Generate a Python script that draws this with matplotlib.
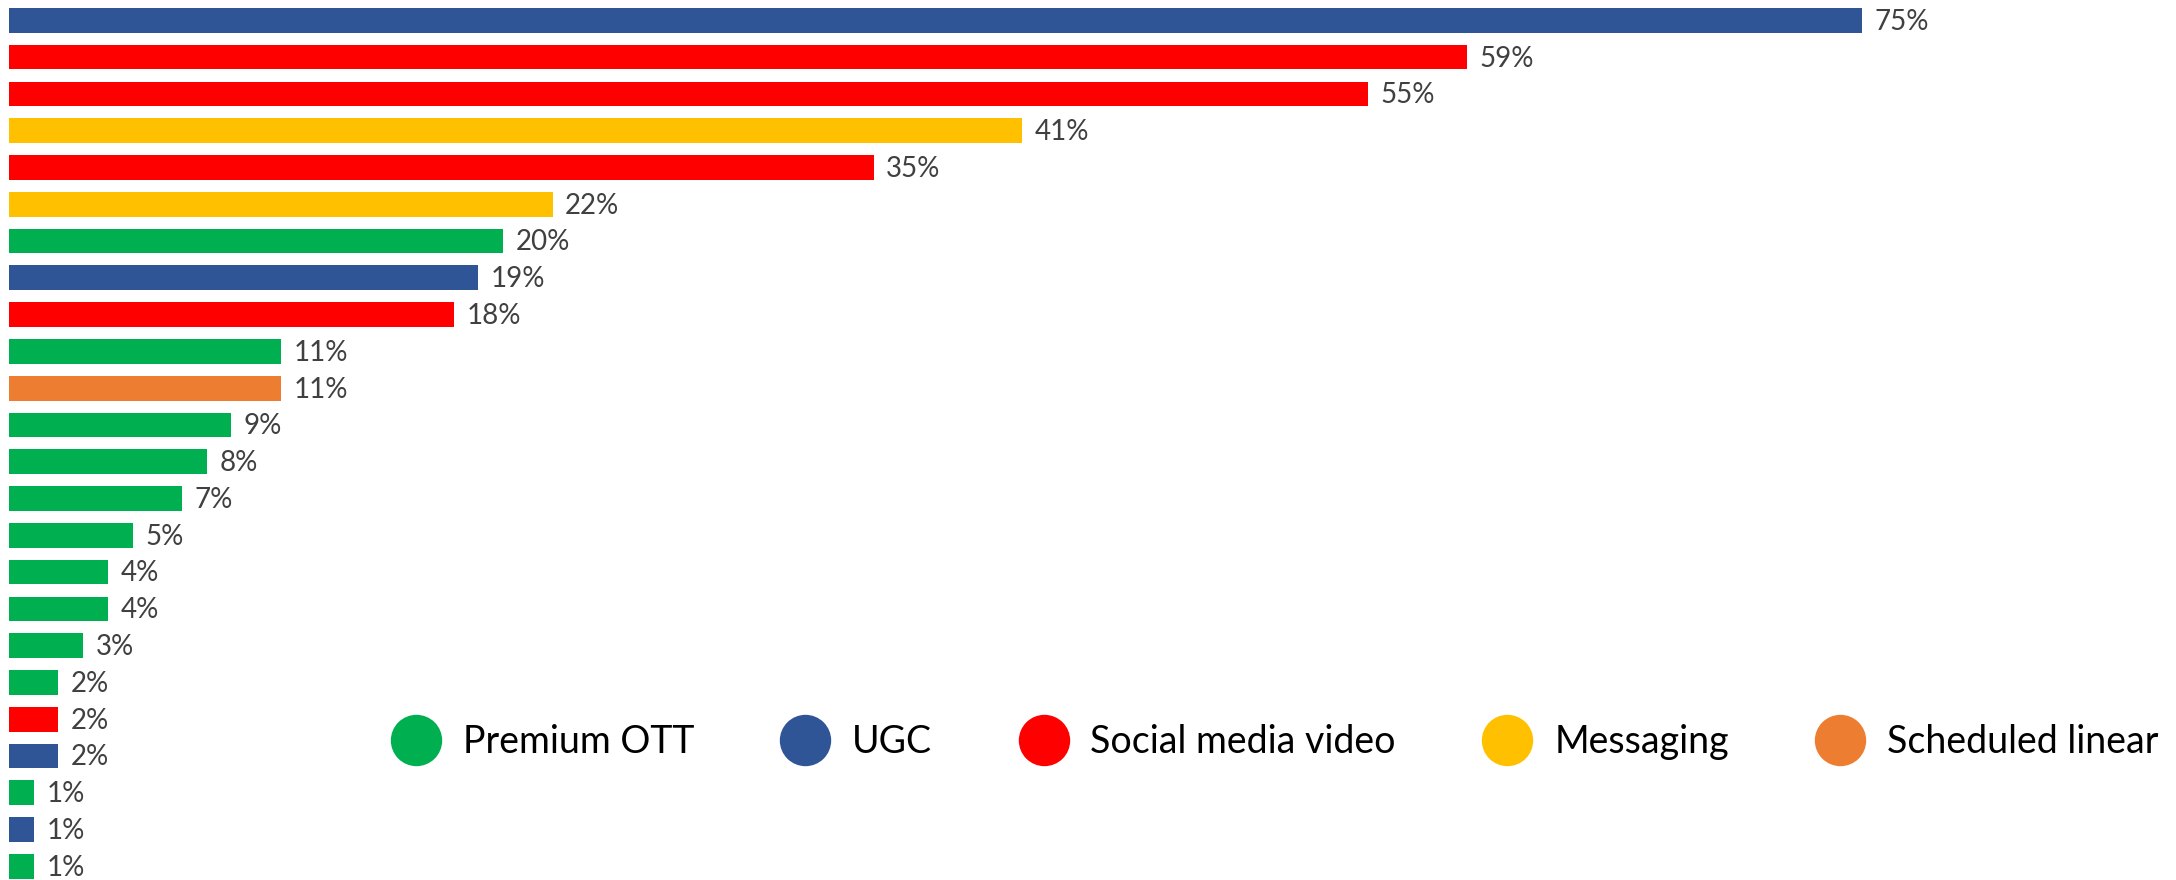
import matplotlib.pyplot as plt
from matplotlib.lines import Line2D

plt.rcParams['font.family'] = ['Lato', 'DejaVu Sans']

values = [75, 59, 55, 41, 35, 22, 20, 19, 18, 11, 11, 9, 8, 7, 5, 4, 4, 3, 2, 2, 2, 1, 1, 1]
groups = ['UGC', 'Social media video', 'Social media video', 'Messaging',
          'Social media video', 'Messaging', 'Premium OTT', 'UGC',
          'Social media video', 'Premium OTT', 'Scheduled linear',
          'Premium OTT', 'Premium OTT', 'Premium OTT', 'Premium OTT',
          'Premium OTT', 'Premium OTT', 'Premium OTT', 'Premium OTT',
          'Social media video', 'UGC', 'Premium OTT', 'UGC', 'Premium OTT']

legend_order = ['Premium OTT', 'UGC', 'Social media video', 'Messaging', 'Scheduled linear']
colors = {
    'Premium OTT': '#00B050',
    'UGC': '#2F5597',
    'Social media video': '#FF0000',
    'Messaging': '#FFC000',
    'Scheduled linear': '#ED7D31',
}

W, H = 2176, 880
fig = plt.figure(figsize=(W / 100, H / 100), dpi=100)
ax = fig.add_axes([9 / W, 0, 1 - 9 / W, 1])

ypos = list(range(len(values)))
ax.barh(ypos, values, height=0.671, color=[colors[g] for g in groups])

for y, v in zip(ypos, values):
    ax.annotate(f'{v}%', (v, y), xytext=(9, -1), textcoords='offset points',
                va='center', ha='left', fontsize=20, color='#404040')

ax.set_xlim(0, 87.7)
ax.set_ylim(23.371, -0.553)
ax.axis('off')

handles = [Line2D([], [], marker='o', linestyle='none', markersize=37,
                  markerfacecolor=colors[g], markeredgewidth=0) for g in legend_order]
fig.legend(handles, legend_order, loc='center left',
           bbox_to_anchor=(397 / W, 1 - 742 / H), ncol=5, frameon=False,
           fontsize=27, handlelength=1.0, handletextpad=0.75,
           columnspacing=2.47, borderpad=0, borderaxespad=0)

fig.savefig('out.png', dpi=100)
